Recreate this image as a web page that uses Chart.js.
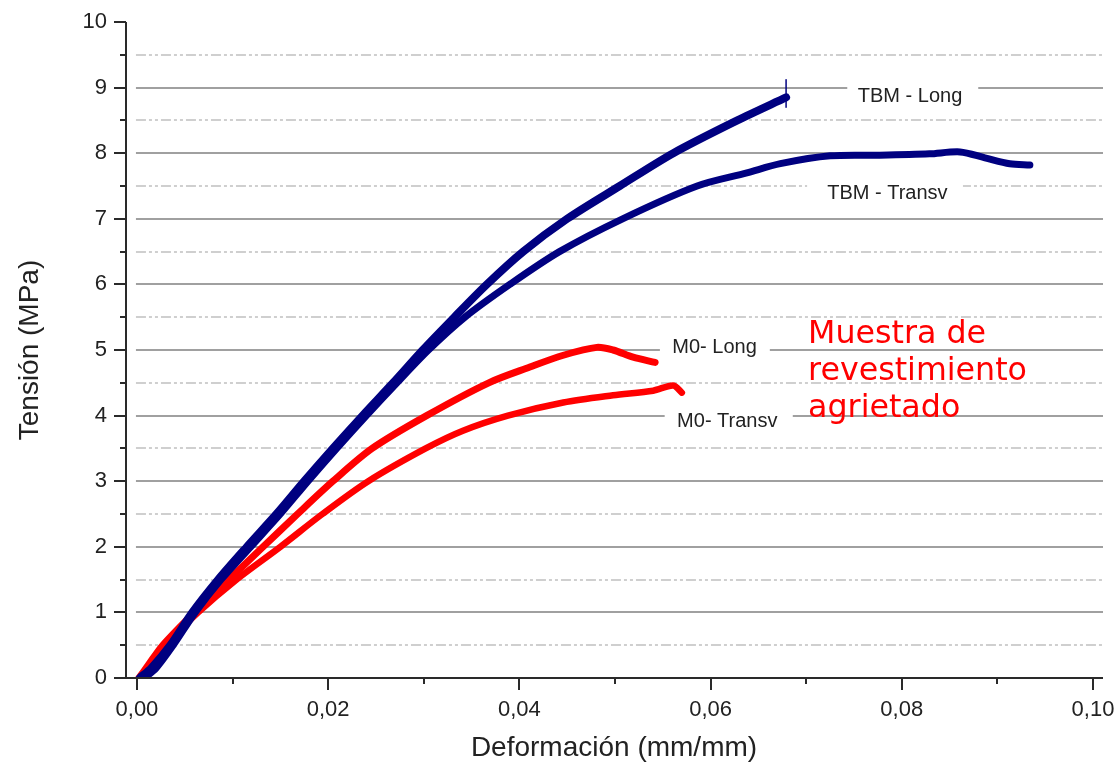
<!DOCTYPE html>
<html><head><meta charset="utf-8">
<script src="https://cdn.jsdelivr.net/npm/chart.js@4.4.0/dist/chart.umd.min.js"></script>
<style>html,body{margin:0;padding:0;background:#fff;}#wrap{width:1117px;height:766px;}</style>
</head><body><div id="wrap"><canvas id="c" width="1117" height="766"></canvas></div>
<script>
// ---- tick values ----
const xTicks = [0, 0.02, 0.04, 0.06, 0.08, 0.10];
const xMinorTicks = [0.01, 0.03, 0.05, 0.07, 0.09];
const yTicks = [0, 1, 2, 3, 4, 5, 6, 7, 8, 9, 10];
const yMinorTicks = [0.5, 1.5, 2.5, 3.5, 4.5, 5.5, 6.5, 7.5, 8.5, 9.5];
const xAxisMin = -0.00125, xAxisMax = 0.10105;

// ---- series (strain mm/mm, stress MPa) ----
const tbmLongX = [0.0003, 0.0015, 0.0035, 0.0058, 0.0085, 0.0115, 0.0146, 0.0175, 0.0205, 0.0236, 0.0268, 0.0299, 0.0332, 0.0366, 0.0404, 0.0450, 0.0505, 0.0561, 0.0628, 0.0679];
const tbmLongY = [0.00, 0.15, 0.50, 1.00, 1.50, 2.00, 2.50, 3.00, 3.50, 4.00, 4.50, 5.00, 5.50, 6.00, 6.50, 7.00, 7.50, 8.00, 8.50, 8.85];
const tbmLongSpikeX = [0.0679, 0.0679];
const tbmLongSpikeY = [8.70, 9.12];

const tbmTransvX = [0.0008, 0.0020, 0.0038, 0.0061, 0.0088, 0.0119, 0.0150, 0.0179, 0.0209, 0.0240, 0.0272, 0.0305, 0.0343, 0.0390, 0.0442, 0.0508, 0.0586, 0.0638, 0.0673, 0.0725, 0.0777, 0.0829, 0.0861, 0.0887, 0.0913, 0.0934];
const tbmTransvY = [0.00, 0.15, 0.50, 1.00, 1.50, 2.00, 2.50, 3.00, 3.50, 4.00, 4.50, 5.00, 5.50, 6.00, 6.50, 7.00, 7.50, 7.70, 7.84, 7.96, 7.97, 7.99, 8.02, 7.93, 7.84, 7.82];

const m0LongX = [0.0002, 0.0012, 0.0027, 0.0060, 0.0096, 0.0132, 0.0168, 0.0205, 0.0246, 0.0303, 0.0368, 0.0411, 0.0446, 0.0481, 0.0498, 0.0519, 0.0542];
const m0LongY = [0.00, 0.20, 0.50, 1.00, 1.50, 2.00, 2.50, 3.00, 3.50, 4.00, 4.50, 4.74, 4.92, 5.04, 5.00, 4.89, 4.81];

const m0TransvX = [0.0006, 0.0016, 0.0030, 0.0064, 0.0104, 0.0150, 0.0194, 0.0242, 0.0302, 0.0341, 0.0388, 0.0446, 0.0498, 0.0540, 0.0561, 0.0570];
const m0TransvY = [0.00, 0.20, 0.50, 1.00, 1.50, 2.00, 2.50, 3.00, 3.50, 3.77, 4.00, 4.20, 4.31, 4.38, 4.46, 4.35];

// ---- texts ----
const curveLabels = ['TBM - Long', 'TBM - Transv', 'M0- Long', 'M0- Transv'];
const noteLines = ['Muestra de', 'revestimiento', 'agrietado'];
const xTitle = 'Deformación (mm/mm)';
const yTitle = 'Tensión (MPa)';

const pts = (xs, ys) => xs.map((v, i) => ({x: v, y: ys[i]}));
const NAVY = '#000080', RED = '#ff0000';
const FONT = 'Liberation Sans, Arial, sans-serif';

const decor = {
  id: 'decor',
  beforeDatasetsDraw(chart) {
    const {ctx, chartArea} = chart;
    const x = chart.scales.x, y = chart.scales.y;
    const gx0 = x.getPixelForValue(0) - 1, gx1 = chartArea.right;
    ctx.save();
    // minor grid
    ctx.strokeStyle = '#cfcfcf'; ctx.lineWidth = 2; ctx.setLineDash([10, 3, 3, 3, 3, 3]);
    yMinorTicks.forEach(v => {
      const py = Math.round(y.getPixelForValue(v));
      ctx.beginPath(); ctx.moveTo(gx0, py); ctx.lineTo(gx1, py); ctx.stroke();
    });
    // major grid
    ctx.setLineDash([]); ctx.strokeStyle = '#a0a0a0';
    yTicks.filter(v => v > 0 && v < 10).forEach(v => {
      const py = Math.round(y.getPixelForValue(v));
      ctx.beginPath(); ctx.moveTo(gx0, py); ctx.lineTo(gx1, py); ctx.stroke();
    });
    // curve labels with gaps in the grid
    const lab = [
      {t: curveLabels[0], x: 0.0754, y: 8.78, gy: 9.0, g0: 0.0743, g1: 0.0880},
      {t: curveLabels[1], x: 0.0722, y: 7.30, gy: 7.5, g0: 0.0701, g1: 0.0864},
      {t: curveLabels[2], x: 0.0560, y: 4.96, gy: 5.0, g0: 0.0547, g1: 0.0662},
      {t: curveLabels[3], x: 0.0565, y: 3.82, gy: 4.0, g0: 0.0552, g1: 0.0686}
    ];
    ctx.font = '20px ' + FONT; ctx.textBaseline = 'alphabetic'; ctx.textAlign = 'left';
    lab.forEach(l => {
      const gp = y.getPixelForValue(l.gy);
      const a = x.getPixelForValue(l.g0), b = x.getPixelForValue(l.g1);
      ctx.fillStyle = '#fff'; ctx.fillRect(a, gp - 3, b - a, 6);
      ctx.fillStyle = '#222';
      ctx.fillText(l.t, x.getPixelForValue(l.x), y.getPixelForValue(l.y));
    });
    // red note
    ctx.font = '31.7px DejaVu Sans, Verdana, sans-serif'; ctx.fillStyle = RED;
    const nx = x.getPixelForValue(0.0702);
    const ny = [5.11, 4.55, 3.98];
    noteLines.forEach((s, i) => ctx.fillText(s, nx, y.getPixelForValue(ny[i])));
    ctx.restore();
  },
  afterDraw(chart) {
    const {ctx, chartArea} = chart;
    const x = chart.scales.x, y = chart.scales.y;
    ctx.save();
    ctx.strokeStyle = '#2a2a2a'; ctx.lineWidth = 2;
    const ax = chartArea.left + 1, ay = chartArea.bottom;
    ctx.beginPath(); ctx.moveTo(ax, chartArea.top); ctx.lineTo(ax, ay); ctx.lineTo(chartArea.right, ay); ctx.stroke();
    ctx.beginPath();
    yTicks.forEach(v => { const p = Math.round(y.getPixelForValue(v)); ctx.moveTo(ax - 12, p); ctx.lineTo(ax, p); });
    yMinorTicks.forEach(v => { const p = Math.round(y.getPixelForValue(v)); ctx.moveTo(ax - 6, p); ctx.lineTo(ax, p); });
    xTicks.forEach(v => { const p = Math.round(x.getPixelForValue(v)); ctx.moveTo(p, ay); ctx.lineTo(p, ay + 12); });
    xMinorTicks.forEach(v => { const p = Math.round(x.getPixelForValue(v)); ctx.moveTo(p, ay); ctx.lineTo(p, ay + 6); });
    ctx.stroke();
    ctx.restore();
  }
};

const ds = (xs, ys, color, w) => ({
  data: pts(xs, ys), borderColor: color, backgroundColor: color, borderWidth: w,
  showLine: true, pointRadius: 0, tension: 0.3, fill: false, borderCapStyle: 'round', borderJoinStyle: 'round'
});

const hiddenGrid = {display: true, drawOnChartArea: false, drawTicks: true, color: 'rgba(0,0,0,0)'};

new Chart(document.getElementById('c'), {
  type: 'scatter',
  data: {
    datasets: [
      ds(tbmLongX, tbmLongY, NAVY, 8),
      ds(tbmLongSpikeX, tbmLongSpikeY, NAVY, 1.5),
      ds(tbmTransvX, tbmTransvY, NAVY, 7),
      ds(m0LongX, m0LongY, RED, 7),
      ds(m0TransvX, m0TransvY, RED, 6.5)
    ]
  },
  options: {
    responsive: false, animation: false, devicePixelRatio: 1,
    layout: {padding: {top: 22, right: 14, left: 0, bottom: 0}},
    plugins: {legend: {display: false}, tooltip: {enabled: false}},
    scales: {
      x: {
        type: 'linear', min: xAxisMin, max: xAxisMax,
        afterBuildTicks: s => { s.ticks = xTicks.map(v => ({value: v})); },
        afterFit: s => { s.height = 88; },
        ticks: {callback: v => Number(v).toFixed(2).replace('.', ','), font: {family: FONT, size: 22}, color: '#222', padding: 0, maxRotation: 0, autoSkip: false},
        grid: Object.assign({tickLength: 19}, hiddenGrid),
        border: {display: false},
        title: {display: true, text: xTitle, font: {family: FONT, size: 28}, color: '#222', padding: {top: 0, bottom: 1}}
      },
      y: {
        type: 'linear', min: 0, max: 10,
        afterBuildTicks: s => { s.ticks = yTicks.map(v => ({value: v})); },
        afterFit: s => { s.width = 125; },
        ticks: {callback: v => String(v), font: {family: FONT, size: 22}, color: '#222', padding: 0},
        grid: Object.assign({tickLength: 18}, hiddenGrid),
        border: {display: false},
        title: {display: true, text: yTitle, font: {family: FONT, size: 28}, color: '#222', padding: {top: 13, bottom: 0}}
      }
    }
  },
  plugins: [decor]
});
</script></body></html>
